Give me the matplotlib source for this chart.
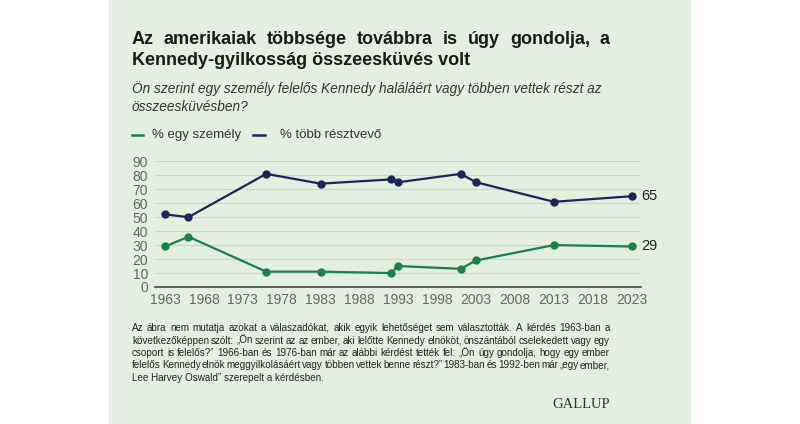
import matplotlib
matplotlib.use("Agg")
import matplotlib.pyplot as plt
from matplotlib.patches import Rectangle

# ============================
# Adatok
# ============================
years = [1963, 1966, 1976, 1983, 1992, 1993, 2001, 2003, 2013, 2023]
one_person = [29, 36, 11, 11, 10, 15, 13, 19, 30, 29]
multiple = [52, 50, 81, 74, 77, 75, 81, 75, 61, 65]
x_ticks = [1963, 1968, 1973, 1978, 1983, 1988, 1993, 1998, 2003, 2008, 2013, 2018, 2023]
y_ticks = [0, 10, 20, 30, 40, 50, 60, 70, 80, 90]

title_lines = ["Az amerikaiak többsége továbbra is úgy gondolja, a",
               "Kennedy-gyilkosság összeesküvés volt"]
subtitle_lines = ["Ön szerint egy személy felelős Kennedy haláláért vagy többen vettek részt az",
                  "összeesküvésben?"]
legend_labels = ["% egy személy", "% több résztvevő"]
note_lines = [
    "Az ábra nem mutatja azokat a válaszadókat, akik egyik lehetőséget sem választották. A kérdés 1963-ban a",
    "következőképpen szólt: „Ön szerint az az ember, aki lelőtte Kennedy elnököt, önszántából cselekedett vagy egy",
    "csoport is felelős?” 1966-ban és 1976-ban már az alábbi kérdést tették fel: „Ön úgy gondolja, hogy egy ember",
    "felelős Kennedy elnök meggyilkolásáért vagy többen vettek benne részt?” 1983-ban és 1992-ben már „egy ember,",
    "Lee Harvey Oswald” szerepelt a kérdésben.",
]

GREEN = "#1c7f4c"
NAVY = "#1a2659"
BG = "#e3efdf"
FONT = "Liberation Sans"

W, H = 800, 424
fig = plt.figure(figsize=(W / 100, H / 100), dpi=100)
fig.patch.set_facecolor("white")
fig.patches.append(Rectangle((109 / W, 0), (691 - 109) / W, 1, transform=fig.transFigure,
                             facecolor=BG, edgecolor="none", zorder=-10))


def fx(px):
    return px / W


def fy(py):
    return 1 - py / H


def justify(lines, x0, x1, y_top, dy, last_justified=False, **kw):
    renderer = fig.canvas.get_renderer()
    for i, line in enumerate(lines):
        y = y_top - i * dy
        words = line.split()
        if (i == len(lines) - 1 and not last_justified) or len(words) == 1:
            fig.text(x0, y, line, **kw)
            continue
        texts = [fig.text(0, y, w, **kw) for w in words]
        widths = [t.get_window_extent(renderer).width / fig.bbox.width for t in texts]
        gap = (x1 - x0 - sum(widths)) / (len(words) - 1)
        x = x0
        for t, w in zip(texts, widths):
            t.set_x(x)
            x += w + gap


# Cím
justify(title_lines, fx(132), fx(610), fy(44), 21 / H, family=FONT, fontsize=13,
        fontweight="bold", color="#1a1a1a", va="baseline")
for i, line in enumerate(subtitle_lines):
    fig.text(fx(132), fy(93 + i * 18), line, family=FONT, fontsize=9.8, style="italic",
             color="#333333", va="baseline")

# Jelmagyarázat
fig.add_artist(plt.Line2D([fx(132), fx(143)], [fy(135), fy(135)], color=GREEN, lw=1.8,
                          transform=fig.transFigure))
fig.text(fx(152), fy(135), legend_labels[0], family=FONT, fontsize=9.5, color="#333333",
         va="center")
fig.add_artist(plt.Line2D([fx(253), fx(265)], [fy(135), fy(135)], color=NAVY, lw=1.8,
                          transform=fig.transFigure))
fig.text(fx(280), fy(135), legend_labels[1], family=FONT, fontsize=9.5, color="#333333",
         va="center")

# Diagram
ax = fig.add_axes([fx(155), fy(287), fx(641) - fx(155), fy(161.3) - fy(287)])
ax.set_facecolor("none")
ax.plot(years, multiple, color=NAVY, lw=1.6, marker="o", ms=5, clip_on=False)
ax.plot(years, one_person, color=GREEN, lw=1.6, marker="o", ms=5, clip_on=False)
ax.set_xlim(1961.7, 2024.2)
ax.set_ylim(0, 90)
ax.set_xticks(x_ticks)
ax.set_yticks(y_ticks)
ax.set_xticklabels([str(t) for t in x_ticks], family=FONT, fontsize=10, color="#666666")
ax.set_yticklabels([str(t) for t in y_ticks], family=FONT, fontsize=10, color="#666666")
ax.tick_params(length=0, pad=4)
ax.tick_params(axis="y", pad=5)
for s in ["top", "right", "left"]:
    ax.spines[s].set_visible(False)
ax.spines["bottom"].set_color("#444444")
ax.spines["bottom"].set_linewidth(1.2)
ax.yaxis.grid(True, color="#cbd6c8", lw=0.8)
ax.set_axisbelow(True)

ax.annotate(str(multiple[-1]), (years[-1], multiple[-1]), xytext=(7, 0),
            textcoords="offset points", va="center", family=FONT, fontsize=10.5,
            color="#222222")
ax.annotate(str(one_person[-1]), (years[-1], one_person[-1]), xytext=(7, 0),
            textcoords="offset points", va="center", family=FONT, fontsize=10.5,
            color="#222222")

# Megjegyzés
justify(note_lines, fx(132), fx(610), fy(331), 12.5 / H, family=FONT, fontsize=7.1,
        color="#222222", va="baseline")

fig.text(fx(610), fy(408), "GALLUP", family="Liberation Serif", fontsize=10.5,
         color="#333333", ha="right", va="baseline")

fig.savefig("out.png", dpi=100, facecolor=fig.get_facecolor())
